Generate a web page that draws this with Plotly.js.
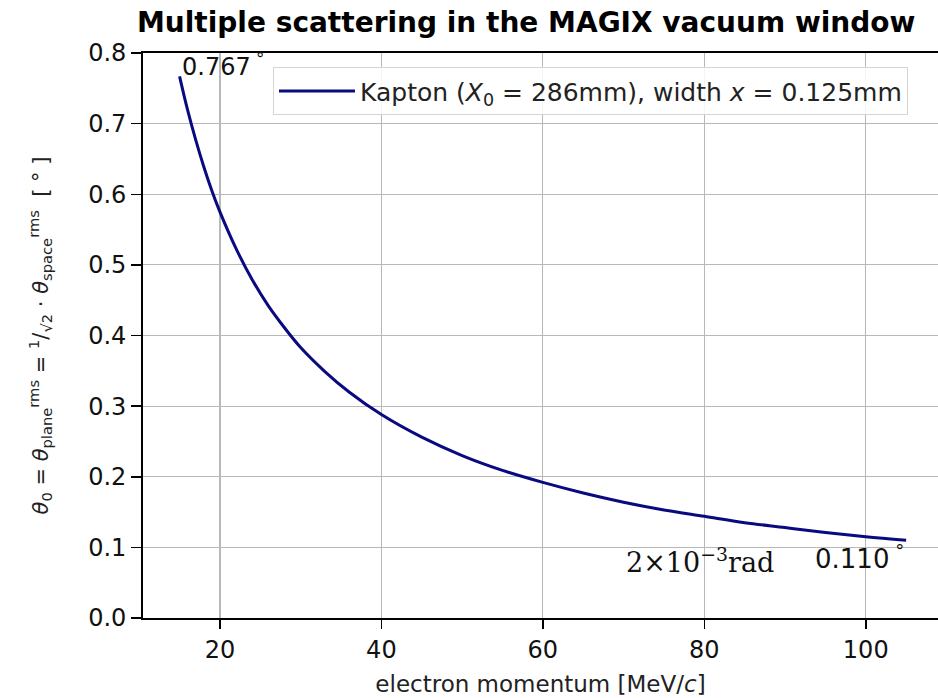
<!DOCTYPE html>
<html>
<head>
<meta charset="utf-8">
<script src="https://cdn.plot.ly/plotly-3.0.1.min.js"></script>
<style>html,body{margin:0;padding:0;background:#fff;}#chart{width:938px;height:698px;}</style>
</head>
<body>
<div id="chart"></div>
<script>
// electron momentum [MeV/c]
const momentum = [15, 16, 17, 18, 19, 20, 22, 24, 26, 28, 30, 33, 36, 40, 45, 50, 55, 60, 65, 70, 75, 80, 85, 90, 95, 100, 105];
// theta_0 [deg]
const theta0 = [0.767, 0.719, 0.677, 0.639, 0.605, 0.575, 0.523, 0.479, 0.442, 0.411, 0.383, 0.349, 0.320, 0.288, 0.256, 0.230, 0.209, 0.192, 0.177, 0.164, 0.153, 0.144, 0.135, 0.128, 0.121, 0.115, 0.110];
const seriesName = "Kapton (<i>X</i><sub>0</sub> = 286mm), width <i>x</i> = 0.125mm";
const xTicks = [20, 40, 60, 80, 100];
const yTicks = [0.0, 0.1, 0.2, 0.3, 0.4, 0.5, 0.6, 0.7, 0.8];
const yTickText = ["0.0", "0.1", "0.2", "0.3", "0.4", "0.5", "0.6", "0.7", "0.8"];

const tickFont = {family: "DejaVu Sans", size: 24, color: "#111"};

const data = [{
  x: momentum, y: theta0, type: "scatter", mode: "lines",
  line: {color: "#0a0a80", width: 3, shape: "spline"},
  name: seriesName
}];

const layout = {
  width: 938, height: 698,
  margin: {l: 143, r: 0, t: 53, b: 80},
  paper_bgcolor: "#fff", plot_bgcolor: "#fff",
  title: {text: "<b>Multiple scattering in the MAGIX vacuum window</b>",
          font: {family: "DejaVu Sans", size: 28, color: "#000"},
          x: 0.561, xanchor: "center", y: 0.968, yanchor: "middle"},
  showlegend: true,
  legend: {x: 0.1635, y: 0.975, xanchor: "left", yanchor: "top",
           itemwidth: 76,
           bgcolor: "rgba(255,255,255,0.85)", bordercolor: "#d5d5d5", borderwidth: 1,
           font: {family: "DejaVu Sans", size: 25, color: "#222"}},
  xaxis: {range: [10.47, 108.95], tickvals: xTicks, ticktext: xTicks.map(String),
          showgrid: true, gridcolor: "#b8b8b8", gridwidth: 1.2,
          showline: true, linecolor: "#000", linewidth: 1.8, mirror: true,
          ticks: "outside", ticklen: 9, tickwidth: 1.5, tickcolor: "#000",
          tickfont: tickFont, zeroline: false,
          title: {text: "electron momentum [MeV/<i>c</i>]", standoff: 13,
                  font: {family: "DejaVu Sans", size: 23, color: "#222"}}},
  yaxis: {range: [0, 0.8], tickvals: yTicks, ticktext: yTickText,
          showgrid: true, gridcolor: "#b8b8b8", gridwidth: 1.2,
          showline: true, linecolor: "#000", linewidth: 1.8, mirror: false,
          ticks: "outside", ticklen: 10, tickwidth: 1.5, tickcolor: "#000",
          tickfont: tickFont, zeroline: false,
          title: {text: "<i>θ</i><sub>0</sub> = <i>θ</i><sub>plane</sub><sup>rms</sup> = <sup>1</sup>/<sub>√2</sub> · <i>θ</i><sub>space</sub><sup>rms</sup>  [ ° ]",
                  standoff: 34,
                  font: {family: "DejaVu Sans", size: 21, color: "#222"}}},
  annotations: [
    {x: momentum[0], y: theta0[0], xref: "x", yref: "y", text: "0.767<sup> °</sup>",
     showarrow: false, xanchor: "left", yanchor: "bottom", yshift: -7,
     font: {family: "DejaVu Sans", size: 24, color: "#111"}},
    {x: momentum[momentum.length - 1], y: theta0[theta0.length - 1], xref: "x", yref: "y",
     text: "0.110<sup> °</sup>", showarrow: false, xanchor: "right", yanchor: "top", yshift: 2,
     font: {family: "DejaVu Sans", size: 26, color: "#111"}},
    {x: 70, y: 0.082, xref: "x", yref: "y", text: "2×10<sup>−3</sup>rad",
     showarrow: false, xanchor: "left", yanchor: "middle",
     font: {family: "DejaVu Serif", size: 27, color: "#111"}}
  ]
};

Plotly.newPlot("chart", data, layout, {displayModeBar: false, staticPlot: true});
</script>
</body>
</html>
